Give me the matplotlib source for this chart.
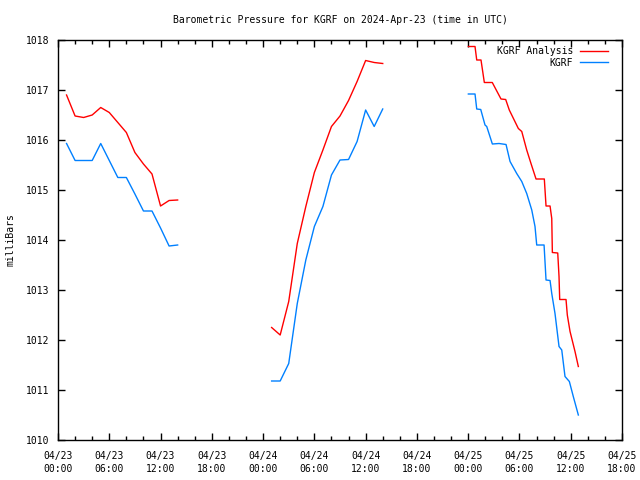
import numpy as np
import matplotlib
matplotlib.use("Agg")
import matplotlib.pyplot as plt
from matplotlib.ticker import MultipleLocator

# times in hours since 2024-04-23 00:00 UTC
seg1_hours = [1, 2, 3, 4, 5, 6, 7, 8, 9, 10, 11, 12, 13, 14]
seg1_analysis = [1016.9, 1016.48, 1016.45, 1016.5, 1016.65, 1016.55, 1016.35,
                 1016.15, 1015.75, 1015.52, 1015.32, 1014.68, 1014.79, 1014.8]
seg1_obs = [1015.93, 1015.59, 1015.59, 1015.59, 1015.93, 1015.59, 1015.25,
            1015.25, 1014.92, 1014.58, 1014.58, 1014.24, 1013.88, 1013.9]

seg2_hours = [25, 26, 27, 28, 29, 30, 31, 32, 33, 34, 35, 36, 37, 38]
seg2_analysis = [1012.25, 1012.1, 1012.77, 1013.93, 1014.67, 1015.35, 1015.8,
                 1016.27, 1016.48, 1016.79, 1017.17, 1017.59, 1017.55, 1017.53]
seg2_obs = [1011.18, 1011.18, 1011.53, 1012.73, 1013.6, 1014.27, 1014.67,
            1015.3, 1015.6, 1015.61, 1015.97, 1016.6, 1016.27, 1016.62]

seg3_hours_a = [48.02, 48.8, 49.0, 49.5, 49.89, 50.82, 51.84, 52.39, 52.81, 53.87,
                54.27, 54.85, 55.35, 55.94, 56.91, 57.11, 57.58, 57.78, 57.85,
                58.48, 58.63, 58.71, 59.45, 59.6, 59.92, 60.5, 60.89]
seg3_analysis = [1017.87, 1017.87, 1017.6, 1017.6, 1017.15, 1017.15, 1016.82,
                 1016.81, 1016.6, 1016.23, 1016.17, 1015.8, 1015.53, 1015.22,
                 1015.22, 1014.68, 1014.68, 1014.43, 1013.75, 1013.74, 1013.27,
                 1012.81, 1012.81, 1012.5, 1012.17, 1011.77, 1011.47]
seg3_hours_o = [48.02, 48.8, 49.0, 49.47, 49.97, 50.17, 50.83, 51.61, 52.43, 52.9,
                53.68, 54.27, 54.85, 55.44, 55.82, 56.02, 56.88, 57.11, 57.58,
                57.78, 58.16, 58.63, 58.95, 59.33, 59.84, 60.3, 60.89]
seg3_obs = [1016.92, 1016.92, 1016.62, 1016.61, 1016.3, 1016.27, 1015.92, 1015.93,
            1015.91, 1015.57, 1015.33, 1015.17, 1014.93, 1014.6, 1014.27, 1013.9,
            1013.9, 1013.2, 1013.19, 1012.93, 1012.53, 1011.87, 1011.8, 1011.27,
            1011.17, 1010.87, 1010.5]

tick_labels = ["04/23\n00:00", "04/23\n06:00", "04/23\n12:00", "04/23\n18:00",
               "04/24\n00:00", "04/24\n06:00", "04/24\n12:00", "04/24\n18:00",
               "04/25\n00:00", "04/25\n06:00", "04/25\n12:00", "04/25\n18:00"]

red = "#ff0000"
blue = "#0080ff"

plt.rcParams["font.family"] = "DejaVu Sans Mono"
plt.rcParams["font.size"] = 7

fig = plt.figure(figsize=(6.4, 4.8), dpi=100)
ax = fig.add_axes([58 / 640, 40 / 480, 564 / 640, 400 / 480])

ax.plot(seg1_hours, seg1_analysis, color=red, lw=1, label="KGRF Analysis")
ax.plot(seg1_hours, seg1_obs, color=blue, lw=1, label="KGRF")
ax.plot(seg2_hours, seg2_analysis, color=red, lw=1)
ax.plot(seg2_hours, seg2_obs, color=blue, lw=1)
ax.plot(seg3_hours_a, seg3_analysis, color=red, lw=1)
ax.plot(seg3_hours_o, seg3_obs, color=blue, lw=1)

ax.set_xlim(0, 66)
ax.set_ylim(1010, 1018)
ax.set_xticks(np.arange(0, 67, 6))
ax.set_xticklabels(tick_labels, linespacing=1.3)
ax.xaxis.set_minor_locator(MultipleLocator(2))
ax.set_yticks(np.arange(1010, 1019, 1))
ax.tick_params(which="both", direction="in", top=True, right=True, width=1)
ax.tick_params(which="major", length=5, pad=8)
ax.tick_params(which="minor", length=3)
ax.tick_params(axis="y", pad=6)
for s in ax.spines.values():
    s.set_linewidth(1)

ax.set_ylabel("milliBars", labelpad=8)
ax.set_title("Barometric Pressure for KGRF on 2024-Apr-23 (time in UTC)",
             fontsize=7, pad=12)
ax.legend(loc="upper right", frameon=False, markerfirst=False, handlelength=2.9,
          handletextpad=0.7, labelspacing=0.15, borderaxespad=0.25,
          bbox_to_anchor=(0.987, 1.0), fontsize=7)

fig.savefig("out.png", dpi=100)
